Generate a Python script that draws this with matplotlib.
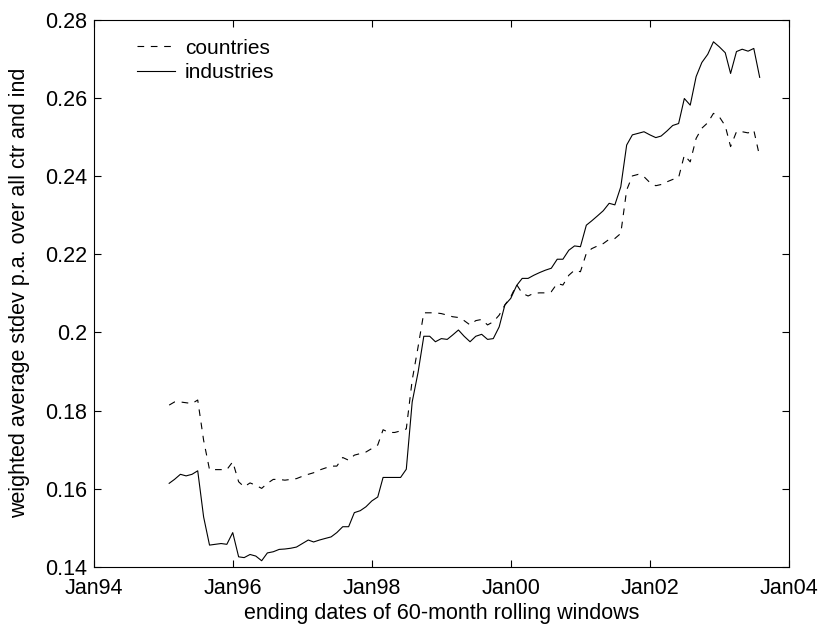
import numpy as np
import pandas as pd
import matplotlib
matplotlib.use("Agg")
import matplotlib.pyplot as plt
import matplotlib.dates as mdates
from matplotlib.ticker import FixedLocator, FuncFormatter

plt.rcParams['font.family'] = ['Liberation Sans', 'DejaVu Sans']

# ending dates of 60-month rolling windows (monthly, Jan95 .. Jul03)
dates = pd.date_range('1995-01-31', '2003-07-31', freq='ME')

countries = [
    0.1814, 0.1822, 0.1822, 0.1820, 0.1818, 0.1827, 0.1724, 0.1649, 0.1649, 0.1649,
    0.1649, 0.1669, 0.1618, 0.1605, 0.1615, 0.1609, 0.1601, 0.1614, 0.1624, 0.1624,
    0.1622, 0.1624, 0.1626, 0.1632, 0.1637, 0.1641, 0.1648, 0.1653, 0.1658, 0.1658,
    0.1680, 0.1673, 0.1686, 0.1690, 0.1694, 0.1703, 0.1712, 0.1751, 0.1744, 0.1744,
    0.1748, 0.1753, 0.1878, 0.1963, 0.2050, 0.2050, 0.2050, 0.2048, 0.2044, 0.2040,
    0.2038, 0.2030, 0.2019, 0.2030, 0.2033, 0.2019, 0.2027, 0.2044, 0.2070, 0.2091,
    0.2122, 0.2100, 0.2093, 0.2100, 0.2101, 0.2101, 0.2104, 0.2125, 0.2121, 0.2146,
    0.2159, 0.2155, 0.2202, 0.2214, 0.2221, 0.2227, 0.2238, 0.2240, 0.2253, 0.2364,
    0.2400, 0.2404, 0.2398, 0.2383, 0.2375, 0.2378, 0.2385, 0.2391, 0.2396, 0.2453,
    0.2436, 0.2496, 0.2522, 0.2536, 0.2560, 0.2551, 0.2528, 0.2475, 0.2513, 0.2513,
    0.2510, 0.2517, 0.2449,
]

industries = [
    0.1614, 0.1624, 0.1637, 0.1633, 0.1637, 0.1646, 0.1528, 0.1456, 0.1458, 0.1460,
    0.1458, 0.1488, 0.1426, 0.1424, 0.1432, 0.1428, 0.1416, 0.1436, 0.1439, 0.1445,
    0.1446, 0.1448, 0.1451, 0.1460, 0.1469, 0.1464, 0.1469, 0.1473, 0.1477, 0.1488,
    0.1503, 0.1503, 0.1539, 0.1544, 0.1554, 0.1569, 0.1579, 0.1629, 0.1629, 0.1629,
    0.1629, 0.1650, 0.1822, 0.1898, 0.1990, 0.1990, 0.1976, 0.1984, 0.1982, 0.1993,
    0.2006, 0.1990, 0.1976, 0.1990, 0.1995, 0.1982, 0.1984, 0.2014, 0.2070, 0.2087,
    0.2120, 0.2138, 0.2138, 0.2146, 0.2153, 0.2159, 0.2164, 0.2187, 0.2187, 0.2210,
    0.2221, 0.2219, 0.2274, 0.2285, 0.2298, 0.2311, 0.2330, 0.2326, 0.2372, 0.2479,
    0.2505, 0.2509, 0.2513, 0.2505, 0.2498, 0.2502, 0.2515, 0.2529, 0.2534, 0.2598,
    0.2581, 0.2654, 0.2690, 0.2711, 0.2743, 0.2730, 0.2715, 0.2662, 0.2718, 0.2724,
    0.2719, 0.2726, 0.2652,
]

xtick_labels = ['Jan94', 'Jan96', 'Jan98', 'Jan00', 'Jan02', 'Jan04']
xtick_dates = pd.to_datetime(['1994-01-01', '1996-01-01', '1998-01-01',
                              '2000-01-01', '2002-01-01', '2004-01-01'])
yticks = [0.14, 0.16, 0.18, 0.20, 0.22, 0.24, 0.26, 0.28]

FS = 15.5

fig = plt.figure(figsize=(8.19, 6.24), dpi=100)
ax = fig.add_axes([94/819, 1-567/624, (789-94)/819, (567-19.5)/624])

ax.plot(dates, countries, color='black', lw=0.8, linestyle=(0, (6, 6)), label='countries')
ax.plot(dates, industries, color='black', lw=0.8, linestyle='-', label='industries')

ax.set_xlim(xtick_dates[0], xtick_dates[-1])
ax.set_ylim(0.14, 0.28)
ax.set_xticks(xtick_dates)
ax.set_xticklabels(xtick_labels)
ax.yaxis.set_major_locator(FixedLocator(yticks))
ax.yaxis.set_major_formatter(FuncFormatter(lambda v, p: ('%.2f' % v).rstrip('0')))

ax.tick_params(direction='in', top=True, right=True, length=5, width=0.8,
               labelsize=FS, colors='black')
ax.tick_params(axis='y', pad=5)
ax.tick_params(axis='x', pad=8)
for s in ax.spines.values():
    s.set_linewidth(0.8)

ax.set_xlabel('ending dates of 60-month rolling windows', fontsize=FS, labelpad=3)
ax.set_ylabel('weighted average stdev p.a. over all ctr and ind', fontsize=FS, labelpad=11)

leg = ax.legend(loc='upper left', bbox_to_anchor=(0.05, 0.98), frameon=False,
                fontsize=15, handlelength=1.8, handletextpad=0.5, labelspacing=0.25,
                borderaxespad=0.0)

fig.savefig('out.png', dpi=100)
